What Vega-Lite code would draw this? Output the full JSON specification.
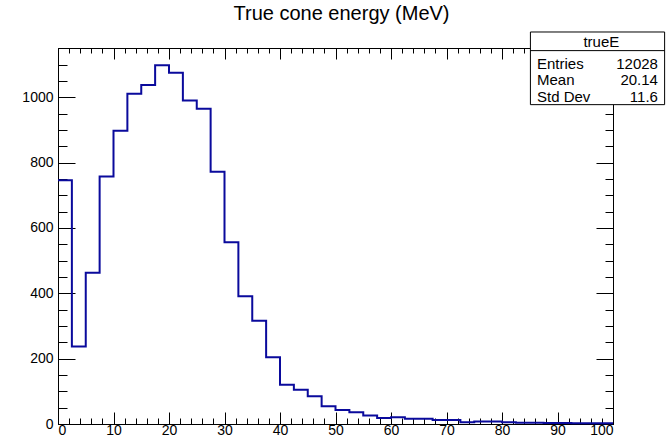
{
  "$schema": "https://vega.github.io/schema/vega-lite/v6.json",
  "width": 555,
  "height": 376,
  "autosize": "none",
  "padding": {"left": 58, "top": 48, "right": 53, "bottom": 20},
  "background": "white",
  "view": {"stroke": "black", "strokeWidth": 1},
  "title": {"text": "True cone energy (MeV)", "font": "Liberation Sans", "fontSize": 20, "fontWeight": "normal", "color": "black", "anchor": "middle", "baseline": "alphabetic", "offset": -9, "dx": 6, "frame": "group"},
  "config": {
    "axis": {"grid": false, "domain": false, "tickColor": "black", "labelColor": "black", "labelFont": "Liberation Sans", "labelFontSize": 14, "tickWidth": 1, "title": null}
  },
  "datasets": {
    "hist": [
      {"E": 0, "n": 746}, {"E": 2.5, "n": 237}, {"E": 5, "n": 463}, {"E": 7.5, "n": 758},
      {"E": 10, "n": 898}, {"E": 12.5, "n": 1011}, {"E": 15, "n": 1038}, {"E": 17.5, "n": 1098},
      {"E": 20, "n": 1075}, {"E": 22.5, "n": 990}, {"E": 25, "n": 965}, {"E": 27.5, "n": 772},
      {"E": 30, "n": 556}, {"E": 32.5, "n": 391}, {"E": 35, "n": 316}, {"E": 37.5, "n": 204},
      {"E": 40, "n": 120}, {"E": 42.5, "n": 105}, {"E": 45, "n": 85}, {"E": 47.5, "n": 54},
      {"E": 50, "n": 43}, {"E": 52.5, "n": 36}, {"E": 55, "n": 26}, {"E": 57.5, "n": 18},
      {"E": 60, "n": 21}, {"E": 62.5, "n": 16}, {"E": 65, "n": 16}, {"E": 67.5, "n": 12},
      {"E": 70, "n": 12}, {"E": 72.5, "n": 5}, {"E": 75, "n": 8}, {"E": 77.5, "n": 8},
      {"E": 80, "n": 5}, {"E": 82.5, "n": 4}, {"E": 85, "n": 4}, {"E": 87.5, "n": 3},
      {"E": 90, "n": 3}, {"E": 92.5, "n": 2}, {"E": 95, "n": 2}, {"E": 97.5, "n": 2},
      {"E": 100, "n": 2}
    ],
    "box": [{"name": "trueE"}],
    "entries": [{"label": "Entries", "value": "12028"}],
    "mean": [{"label": "Mean", "value": "20.14"}],
    "std": [{"label": "Std Dev", "value": "11.6"}]
  },
  "resolve": {"axis": {"x": "independent", "y": "independent"}},
  "layer": [
    {
      "data": {"name": "hist"},
      "mark": {"type": "line", "strokeOpacity": 0},
      "encoding": {
        "x": {"field": "E", "type": "quantitative", "scale": {"domain": [0, 100], "nice": false, "zero": false},
              "axis": {"orient": "bottom", "values": [0,2,4,6,8,10,12,14,16,18,20,22,24,26,28,30,32,34,36,38,40,42,44,46,48,50,52,54,56,58,60,62,64,66,68,70,72,74,76,78,80,82,84,86,88,90,92,94,96,98,100], "tickSize": -6, "labels": false}},
        "y": {"field": "n", "type": "quantitative", "scale": {"domain": [0, 1151], "nice": false, "zero": false},
              "axis": {"orient": "left", "values": [0,50,100,150,200,250,300,350,400,450,500,550,600,650,700,750,800,850,900,950,1000,1050,1100,1150], "tickSize": -9, "labels": false}}
      }
    },
    {
      "data": {"name": "hist"},
      "mark": {"type": "line", "strokeOpacity": 0},
      "encoding": {
        "x": {"field": "E", "type": "quantitative",
              "axis": {"orient": "top", "values": [0,10,20,30,40,50,60,70,80,90,100], "tickSize": -11, "labels": false}},
        "y": {"field": "n", "type": "quantitative",
              "axis": {"orient": "right", "values": [0,200,400,600,800,1000], "tickSize": -17, "labels": false}}
      }
    },
    {
      "data": {"name": "hist"},
      "mark": {"type": "line", "strokeOpacity": 0},
      "encoding": {
        "x": {"field": "E", "type": "quantitative",
              "axis": {"orient": "top", "values": [0,2,4,6,8,10,12,14,16,18,20,22,24,26,28,30,32,34,36,38,40,42,44,46,48,50,52,54,56,58,60,62,64,66,68,70,72,74,76,78,80,82,84,86,88,90,92,94,96,98,100], "tickSize": -5, "labels": false}},
        "y": {"field": "n", "type": "quantitative",
              "axis": {"orient": "right", "values": [0,50,100,150,200,250,300,350,400,450,500,550,600,650,700,750,800,850,900,950,1000,1050,1100,1150], "tickSize": -8, "labels": false}}
      }
    },
    {
      "data": {"name": "hist"},
      "mark": {"type": "line", "interpolate": "step-after", "color": "#0a0a9c", "strokeWidth": 2},
      "encoding": {
        "x": {"field": "E", "type": "quantitative",
              "axis": {"orient": "bottom", "values": [0,10,20,30,40,50,60,70,80,90,100], "tickSize": -12, "labelPadding": 11, "format": "d"}},
        "y": {"field": "n", "type": "quantitative",
              "axis": {"orient": "left", "values": [0,200,400,600,800,1000], "tickSize": -17, "labelPadding": 22, "format": "d"}}
      }
    },
    {
      "data": {"name": "box"},
      "mark": {"type": "rect", "fill": "white", "stroke": "black", "strokeWidth": 1, "clip": false},
      "encoding": {
        "x": {"datum": 85.12, "type": "quantitative", "axis": null},
        "x2": {"datum": 109.3},
        "y": {"datum": 1200, "type": "quantitative", "axis": null},
        "y2": {"datum": 977.6}
      }
    },
    {
      "data": {"name": "box"},
      "mark": {"type": "rule", "color": "black", "strokeWidth": 1, "clip": false},
      "encoding": {
        "x": {"datum": 85.12, "type": "quantitative", "axis": null},
        "x2": {"datum": 109.3},
        "y": {"datum": 1143, "type": "quantitative", "axis": null}
      }
    },
    {
      "data": {"name": "box"},
      "mark": {"type": "text", "font": "Liberation Sans", "fontSize": 15, "fill": "black", "align": "center", "baseline": "middle", "clip": false},
      "encoding": {
        "x": {"datum": 97.9, "type": "quantitative", "axis": null},
        "y": {"datum": 1170, "type": "quantitative", "axis": null},
        "text": {"field": "name"}
      }
    },
    {
      "data": {"name": "entries"},
      "layer": [
        {
          "mark": {"type": "text", "font": "Liberation Sans", "fontSize": 15, "fill": "black", "align": "left", "baseline": "middle", "clip": false},
          "encoding": {
            "x": {"datum": 86.3, "type": "quantitative", "axis": null},
            "y": {"datum": 1102, "type": "quantitative", "axis": null},
            "text": {"field": "label"}
          }
        },
        {
          "mark": {"type": "text", "font": "Liberation Sans", "fontSize": 15, "fill": "black", "align": "right", "baseline": "middle", "clip": false},
          "encoding": {
            "x": {"datum": 108.1, "type": "quantitative", "axis": null},
            "y": {"datum": 1102, "type": "quantitative", "axis": null},
            "text": {"field": "value"}
          }
        }
      ]
    },
    {
      "data": {"name": "mean"},
      "layer": [
        {
          "mark": {"type": "text", "font": "Liberation Sans", "fontSize": 15, "fill": "black", "align": "left", "baseline": "middle", "clip": false},
          "encoding": {
            "x": {"datum": 86.3, "type": "quantitative", "axis": null},
            "y": {"datum": 1052, "type": "quantitative", "axis": null},
            "text": {"field": "label"}
          }
        },
        {
          "mark": {"type": "text", "font": "Liberation Sans", "fontSize": 15, "fill": "black", "align": "right", "baseline": "middle", "clip": false},
          "encoding": {
            "x": {"datum": 108.1, "type": "quantitative", "axis": null},
            "y": {"datum": 1052, "type": "quantitative", "axis": null},
            "text": {"field": "value"}
          }
        }
      ]
    },
    {
      "data": {"name": "std"},
      "layer": [
        {
          "mark": {"type": "text", "font": "Liberation Sans", "fontSize": 15, "fill": "black", "align": "left", "baseline": "middle", "clip": false},
          "encoding": {
            "x": {"datum": 86.3, "type": "quantitative", "axis": null},
            "y": {"datum": 1002, "type": "quantitative", "axis": null},
            "text": {"field": "label"}
          }
        },
        {
          "mark": {"type": "text", "font": "Liberation Sans", "fontSize": 15, "fill": "black", "align": "right", "baseline": "middle", "clip": false},
          "encoding": {
            "x": {"datum": 108.1, "type": "quantitative", "axis": null},
            "y": {"datum": 1002, "type": "quantitative", "axis": null},
            "text": {"field": "value"}
          }
        }
      ]
    }
  ]
}
